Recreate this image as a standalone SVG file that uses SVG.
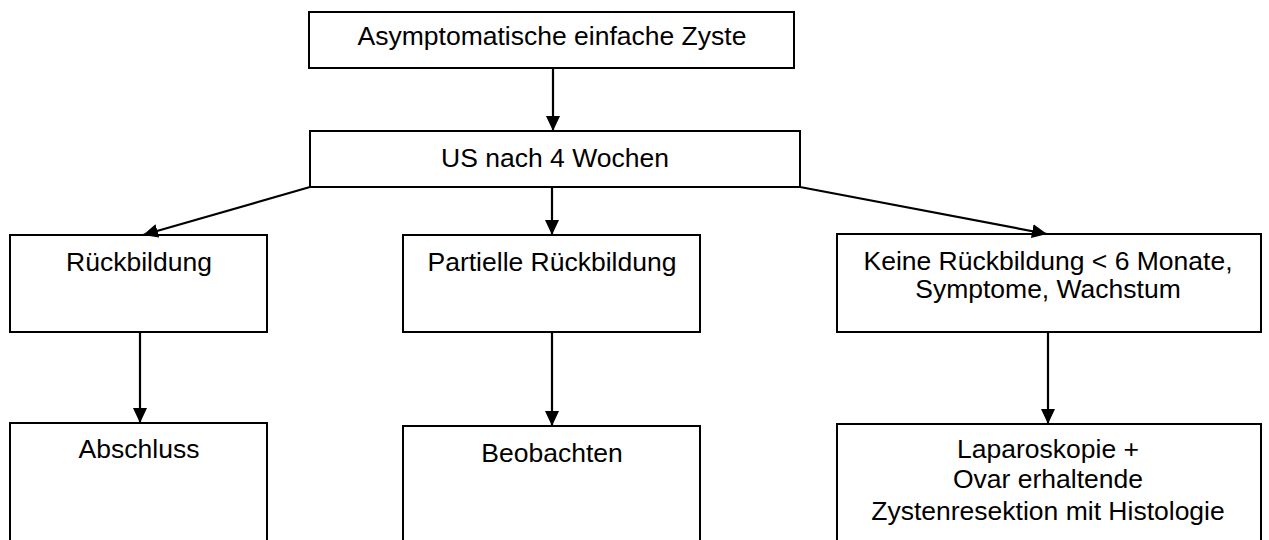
<svg xmlns="http://www.w3.org/2000/svg" width="1269" height="540" viewBox="0 0 1269 540">
<style>
.box{fill:#fff;stroke:#000;stroke-width:2}
.t{font-family:"Liberation Sans",Arial,sans-serif;font-size:26.5px;fill:#000;text-anchor:middle}
.c{stroke:#000;stroke-width:2.2;fill:none;marker-end:url(#ah)}
</style>
<defs>
<marker id="ah" markerWidth="15" markerHeight="14" refX="10" refY="5" orient="auto" markerUnits="userSpaceOnUse" viewBox="0 0 10 10" preserveAspectRatio="none">
<path d="M0,0 L10,5 L0,10 Z" fill="#000"/>
</marker>
</defs>
<rect width="1269" height="540" fill="#fff"/>
<g id="n1"><rect class="box" x="309" y="12" width="485" height="56"/><text class="t" x="552" y="45">Asymptomatische einfache Zyste</text></g>
<g id="n2"><rect class="box" x="310" y="131" width="490" height="56"/><text class="t" x="555" y="167">US nach 4 Wochen</text></g>
<g id="n3"><rect class="box" x="10" y="235" width="257" height="97"/><text class="t" x="139" y="271">Rückbildung</text></g>
<g id="n4"><rect class="box" x="403" y="235" width="297" height="97"/><text class="t" x="552" y="271">Partielle Rückbildung</text></g>
<g id="n5"><rect class="box" x="837" y="234" width="424" height="98"/><text class="t" x="1048" y="270">Keine Rückbildung &lt; 6 Monate,</text><text class="t" x="1048" y="298">Symptome, Wachstum</text></g>
<g id="n6"><rect class="box" x="10" y="423" width="257" height="130"/><text class="t" x="139" y="458">Abschluss</text></g>
<g id="n7"><rect class="box" x="403" y="426" width="297" height="130"/><text class="t" x="552" y="462">Beobachten</text></g>
<g id="n8"><rect class="box" x="837" y="424" width="424" height="130"/><text class="t" x="1048" y="458">Laparoskopie +</text><text class="t" x="1048" y="488">Ovar erhaltende</text><text class="t" x="1048" y="520">Zystenresektion mit Histologie</text></g>
<g id="connectors">
<line class="c" x1="553" y1="68" x2="553" y2="131"/>
<line class="c" x1="310" y1="187" x2="143" y2="235"/>
<line class="c" x1="552" y1="187" x2="552" y2="235"/>
<line class="c" x1="800" y1="187" x2="1047" y2="234"/>
<line class="c" x1="140" y1="332" x2="140" y2="423"/>
<line class="c" x1="552" y1="332" x2="552" y2="426"/>
<line class="c" x1="1048" y1="332" x2="1048" y2="424"/>
</g>
</svg>
